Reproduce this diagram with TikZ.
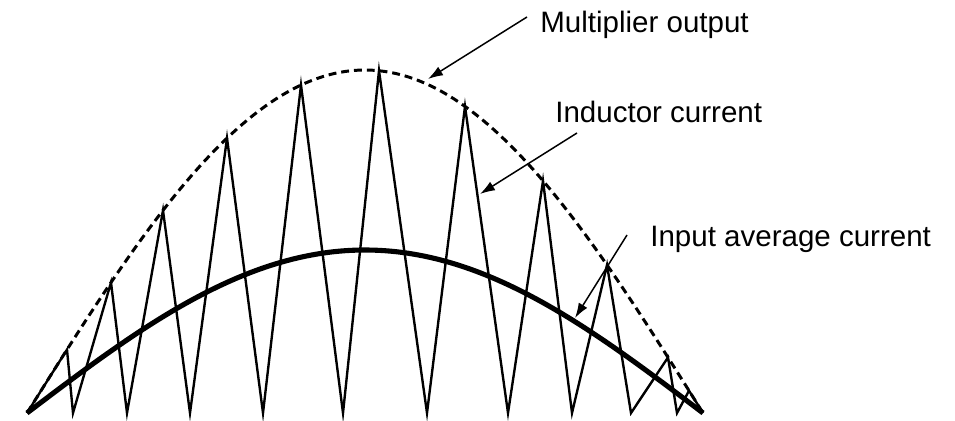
\documentclass[tikz,border=0pt]{standalone}
\usepackage{fontspec}
\setmainfont{Liberation Sans}
\usetikzlibrary{arrows.meta}

\begin{document}
\begin{tikzpicture}[x=0.02cm, y=-0.02cm,
  every node/.style={font=\fontsize{16.8}{20}\selectfont, inner sep=0pt, anchor=base west},
  envelope/.style={line width=1.7pt, dash pattern=on 4.5pt off 2.8pt},
  average/.style={line width=2.9pt},
  ripple/.style={line width=1.35pt, line join=miter, miter limit=20},
  pointer/.style={-{Latex[length=3mm,width=2mm]}, line width=0.85pt}]
  \useasboundingbox (0,0) rectangle (955,421);

  % multiplier output (dashed envelope)
  \draw[envelope] plot[domain=27:703, samples=120]
    (\x, {413-343*sin((\x-27)/676*180)});

  % inductor current, peaks on the envelope
  \draw[ripple] (27,413)
    \foreach \p/\v in {67/73, 111/127, 163/190, 227/263, 301/343, 379/427,
                       465/508, 543/572, 607/631, 668/677, 689/703} {
      -- (\p, {413-343*sin((\p-27)/676*180)}) -- (\v,413)
    };

  % input average current
  \draw[average] plot[domain=27:703, samples=120]
    (\x, {413-163*sin((\x-27)/676*180)});

  % labels
  \node (mult) at (540,33)  {Multiplier output};
  \node (ind)  at (555,123) {Inductor current};
  \node (avg)  at (650,247) {Input average current};

  \coordinate (multtail) at (527,17);
  \coordinate (multtip)  at (428,79);
  \coordinate (indtail)  at (577,133);
  \coordinate (indtip)   at (480,194);
  \coordinate (avgtail)  at (627,235);
  \coordinate (avgtip)   at (575,318);

  \draw[pointer] (multtail) -- (multtip);
  \draw[pointer] (indtail) -- (indtip);
  \draw[pointer] (avgtail) -- (avgtip);
\end{tikzpicture}
\end{document}
